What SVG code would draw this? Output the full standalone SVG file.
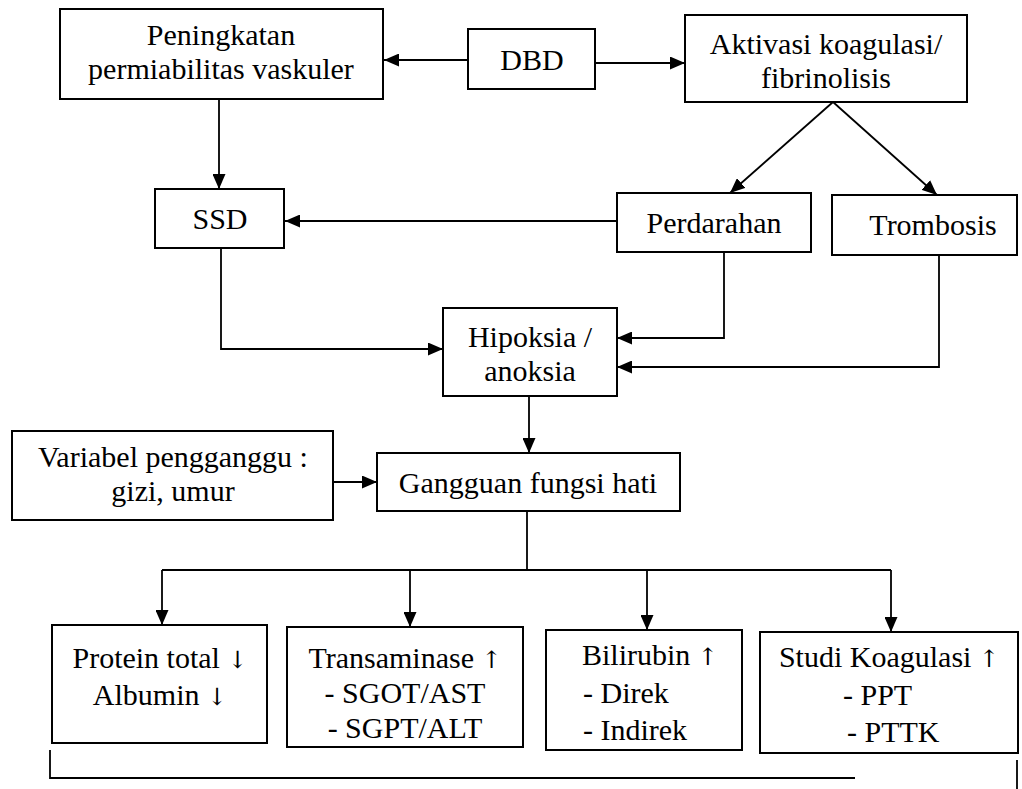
<svg xmlns="http://www.w3.org/2000/svg" width="1022" height="789" viewBox="0 0 1022 789">
<style>
  .box { fill: #fff; stroke: #000; stroke-width: 2; }
  text { font-family: 'Liberation Serif', 'DejaVu Serif', serif; font-size: 30px; fill: #000; }
  .c { text-anchor: middle; }
  .ar { font-family: 'DejaVu Serif', serif; font-size: 24px; }
  .ln { fill: none; stroke: #000; stroke-width: 1.8; }
</style>
<defs>
  <marker id="ah" markerUnits="userSpaceOnUse" markerWidth="15" markerHeight="13" refX="15" refY="6.5" orient="auto">
    <path d="M0,0 L15,6.5 L0,13 z" fill="#000"/>
  </marker>
</defs>
<rect width="1022" height="789" fill="#fff"/>

<g id="connectors">
  <line class="ln" x1="468" y1="60" x2="384" y2="60" marker-end="url(#ah)"/>
  <line class="ln" x1="595" y1="63" x2="685" y2="63" marker-end="url(#ah)"/>
  <line class="ln" x1="833" y1="102" x2="730" y2="193" marker-end="url(#ah)"/>
  <line class="ln" x1="833" y1="102" x2="937" y2="195" marker-end="url(#ah)"/>
  <line class="ln" x1="219" y1="99" x2="219" y2="189" marker-end="url(#ah)"/>
  <line class="ln" x1="617" y1="221" x2="285" y2="221" marker-end="url(#ah)"/>
  <polyline class="ln" points="221,248 221,349 443,349" marker-end="url(#ah)"/>
  <polyline class="ln" points="724,252 724,338 617,338" marker-end="url(#ah)"/>
  <polyline class="ln" points="939,255 939,367 617,367" marker-end="url(#ah)"/>
  <line class="ln" x1="529" y1="396" x2="529" y2="453" marker-end="url(#ah)"/>
  <line class="ln" x1="333" y1="482" x2="377" y2="482" marker-end="url(#ah)"/>
  <line class="ln" x1="527" y1="511" x2="527" y2="570"/>
  <line class="ln" x1="162" y1="570" x2="891" y2="570"/>
  <line class="ln" x1="162" y1="570" x2="162" y2="625" marker-end="url(#ah)"/>
  <line class="ln" x1="410" y1="570" x2="410" y2="627" marker-end="url(#ah)"/>
  <line class="ln" x1="647" y1="570" x2="647" y2="630" marker-end="url(#ah)"/>
  <line class="ln" x1="891" y1="570" x2="891" y2="632" marker-end="url(#ah)"/>
  <polyline class="ln" points="50,750 50,778 855,778"/>
  <line class="ln" x1="1017" y1="760" x2="1017" y2="789"/>
</g>

<g id="peningkatan">
  <rect class="box" x="60" y="9" width="323" height="90"/>
  <text class="c" x="221" y="45">Peningkatan</text>
  <text class="c" x="221" y="79">permiabilitas vaskuler</text>
</g>
<g id="dbd">
  <rect class="box" x="468" y="29" width="127" height="60"/>
  <text class="c" x="532" y="70">DBD</text>
</g>
<g id="aktivasi">
  <rect class="box" x="685" y="15" width="282" height="87"/>
  <text class="c" x="826" y="54">Aktivasi koagulasi/</text>
  <text class="c" x="826" y="88">fibrinolisis</text>
</g>
<g id="ssd">
  <rect class="box" x="155" y="189" width="129" height="59"/>
  <text class="c" x="220" y="229">SSD</text>
</g>
<g id="perdarahan">
  <rect class="box" x="617" y="193" width="194" height="59"/>
  <text class="c" x="714" y="233">Perdarahan</text>
</g>
<g id="trombosis">
  <rect class="box" x="832" y="195" width="185" height="60"/>
  <text class="c" x="933" y="235">Trombosis</text>
</g>
<g id="hipoksia">
  <rect class="box" x="443" y="308" width="174" height="88"/>
  <text class="c" x="530" y="347">Hipoksia /</text>
  <text class="c" x="530" y="381">anoksia</text>
</g>
<g id="variabel">
  <rect class="box" x="12" y="431" width="321" height="89"/>
  <text class="c" x="173" y="467">Variabel pengganggu :</text>
  <text class="c" x="173" y="501">gizi, umur</text>
</g>
<g id="gangguan">
  <rect class="box" x="377" y="453" width="303" height="58"/>
  <text class="c" x="528" y="493">Gangguan fungsi hati</text>
</g>
<g id="protein">
  <rect class="box" x="52" y="625" width="215" height="118"/>
  <text class="c" x="160" y="668">Protein total <tspan class="ar">↓</tspan></text>
  <text class="c" x="160" y="705">Albumin <tspan class="ar">↓</tspan></text>
</g>
<g id="transaminase">
  <rect class="box" x="287" y="627" width="236" height="120"/>
  <text class="c" x="405" y="668">Transaminase <tspan class="ar">↑</tspan></text>
  <text class="c" x="405" y="703">- SGOT/AST</text>
  <text class="c" x="405" y="738">- SGPT/ALT</text>
</g>
<g id="bilirubin">
  <rect class="box" x="546" y="630" width="196" height="120"/>
  <text x="582" y="665">Bilirubin <tspan class="ar">↑</tspan></text>
  <text x="583" y="703">- Direk</text>
  <text x="583" y="740">- Indirek</text>
</g>
<g id="studi">
  <rect class="box" x="760" y="632" width="258" height="121"/>
  <text class="c" x="889" y="667">Studi Koagulasi <tspan class="ar">↑</tspan></text>
  <text x="843" y="705">- PPT</text>
  <text x="847" y="742">- PTTK</text>
</g>
</svg>
